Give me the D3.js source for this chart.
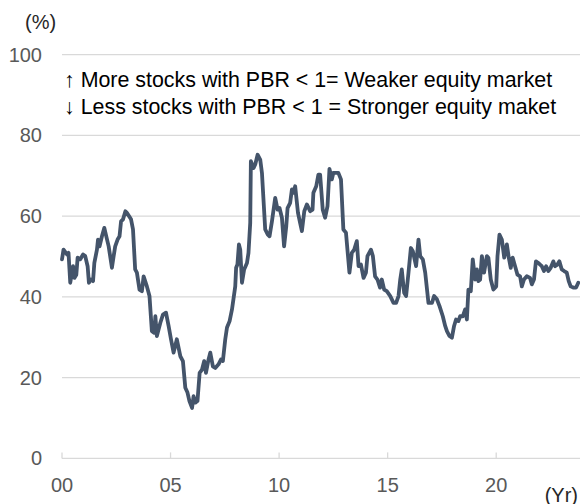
<!DOCTYPE html>
<html>
<head>
<meta charset="utf-8">
<script src="https://cdn.jsdelivr.net/npm/d3@7"></script>
<style>
  body { margin: 0; background: #fff; }
  svg { display: block; font-family: "Liberation Sans", Arial, sans-serif; }
</style>
</head>
<body>
<script>
// years since 2000 (monthly-ish readings)
var years = [0.00,0.07,0.23,0.30,0.38,0.51,0.57,0.66,0.72,0.84,0.97,1.07,1.18,1.24,1.34,1.43,1.49,1.61,1.66,1.73,
  1.84,1.95,2.04,2.15,2.30,2.38,2.45,2.56,2.65,2.72,2.81,2.92,2.99,3.18,3.27,3.37,3.45,3.57,3.68,3.76,
  3.91,4.03,4.14,4.25,4.30,4.37,4.53,4.65,4.79,4.91,5.02,5.14,5.29,5.45,5.57,5.68,5.78,5.87,5.99,6.06,
  6.14,6.24,6.34,6.45,6.55,6.63,6.75,6.83,6.95,7.06,7.21,7.32,7.41,7.52,7.60,7.72,7.83,7.98,8.02,8.08,
  8.15,8.21,8.29,8.39,8.52,8.59,8.67,8.70,8.82,8.90,9.01,9.13,9.21,9.36,9.48,9.56,9.67,9.82,9.93,10.02,
  10.13,10.23,10.33,10.39,10.51,10.59,10.66,10.74,10.87,10.97,11.05,11.16,11.28,11.43,11.54,11.58,11.71,11.81,11.89,12.01,
  12.12,12.23,12.32,12.43,12.50,12.73,12.85,12.96,13.08,13.24,13.35,13.46,13.58,13.66,13.77,13.89,14.00,14.07,14.23,14.32,
  14.42,14.53,14.65,14.73,14.84,14.96,15.12,15.27,15.39,15.50,15.58,15.65,15.76,15.85,15.96,16.07,16.16,16.31,16.42,16.50,
  16.62,16.73,16.88,17.04,17.14,17.27,17.39,17.54,17.65,17.73,17.85,17.96,18.06,18.15,18.26,18.34,18.46,18.57,18.65,18.72,
  18.83,18.92,19.03,19.11,19.18,19.26,19.34,19.44,19.57,19.64,19.75,19.87,20.00,20.06,20.15,20.26,20.37,20.49,20.58,20.67,
  20.76,20.87,20.98,21.10,21.18,21.28,21.41,21.56,21.64,21.74,21.83,21.94,22.02,22.10,22.20,22.30,22.40,22.51,22.63,22.71,
  22.82,22.91,23.02,23.13,23.25,23.34,23.43,23.55,23.68,23.78];

// share of stocks with PBR < 1 (%)
var shares = [49.3,51.7,50.5,50.9,43.5,47.6,44.7,45.5,49.7,49.3,50.5,50.1,47.6,43.5,44.3,43.9,48.4,51.7,54.2,52.5,
  55.0,57.1,55.0,52.5,47.2,50.1,52.5,54.2,55.0,58.7,59.2,61.2,60.8,59.2,56.7,46.8,46.0,41.8,41.4,45.1,
  42.6,40.2,31.5,31.1,35.2,30.3,33.6,35.6,36.1,32.8,29.5,26.2,29.5,25.3,24.1,17.5,16.3,14.2,12.5,15.4,
  13.8,14.2,21.2,22.0,24.1,21.2,24.5,26.2,22.8,22.4,23.3,24.5,24.1,29.5,32.4,34.0,36.9,42.6,47.2,48.0,
  53.0,51.7,43.5,46.8,48.4,50.9,58.3,73.6,71.9,72.8,75.2,74.0,70.7,56.7,55.4,55.0,58.7,64.5,61.6,62.0,
  59.6,52.5,57.5,62.0,63.3,66.6,65.8,67.4,60.8,58.3,56.3,61.2,62.9,61.2,61.6,65.8,67.4,70.3,70.3,61.6,
  59.6,62.5,71.7,69.1,70.7,70.7,69.1,56.7,55.9,46.0,50.9,51.7,53.8,47.6,48.0,44.7,46.0,50.1,51.7,50.1,
  45.1,44.3,42.3,44.3,41.8,41.4,40.2,38.5,38.5,40.2,44.3,46.8,41.0,40.2,46.0,52.1,51.3,47.6,54.2,50.1,
  49.3,46.0,38.5,38.5,40.2,39.4,37.7,35.2,32.8,31.5,30.3,29.9,32.8,34.4,34.0,35.2,35.2,36.9,34.4,41.8,
  41.4,49.3,44.3,46.8,43.9,44.3,50.1,46.0,50.1,49.7,44.3,41.8,42.6,50.1,55.4,54.2,49.7,53.0,49.7,47.2,
  49.7,47.6,45.5,45.1,42.6,44.3,45.1,44.7,43.1,44.3,48.8,48.4,48.0,47.6,46.4,47.6,46.4,47.2,48.8,47.6,
  48.0,48.8,46.8,46.4,46.0,43.9,42.6,42.3,42.3,43.5];

var yTicks = [0, 20, 40, 60, 80, 100];
var xTicks = [0, 5, 10, 15, 20];
var xTickLabels = ["00", "05", "10", "15", "20"];
var notes = ["\u2191 More stocks with PBR < 1= Weaker equity market",
             "\u2193 Less stocks with PBR < 1 = Stronger equity maket"];

var W = 580, H = 504;
var plotLeft = 62, plotRight = 580, plotTop = 54.6, plotBottom = 458.4;

var svg = d3.select("body").append("svg")
    .attr("width", W)
    .attr("height", H);

var x = d3.scaleLinear().domain([0, 23.86]).range([plotLeft, plotRight]);
var y = d3.scaleLinear().domain([0, 100]).range([plotBottom, plotTop]);

// gridlines (0 is the axis line)
svg.append("g").selectAll("line")
    .data(yTicks)
    .enter().append("line")
    .attr("x1", plotLeft)
    .attr("x2", plotRight)
    .attr("y1", function(d){ return y(d); })
    .attr("y2", function(d){ return y(d); })
    .attr("stroke", "#d9d9d9")
    .attr("stroke-width", 1.3);

// x tick marks pointing up
svg.append("g").selectAll("line")
    .data(xTicks)
    .enter().append("line")
    .attr("x1", function(d){ return x(d); })
    .attr("x2", function(d){ return x(d); })
    .attr("y1", plotBottom)
    .attr("y2", plotBottom - 6)
    .attr("stroke", "#d9d9d9")
    .attr("stroke-width", 1.3);

svg.append("g").selectAll("text")
    .data(yTicks)
    .enter().append("text")
    .attr("x", 42)
    .attr("y", function(d){ return y(d) + 7; })
    .attr("text-anchor", "end")
    .attr("fill", "#595959")
    .style("font-size", "20px")
    .text(function(d){ return d; });

svg.append("g").selectAll("text")
    .data(xTicks)
    .enter().append("text")
    .attr("x", function(d){ return x(d); })
    .attr("y", 491.5)
    .attr("text-anchor", "middle")
    .attr("fill", "#595959")
    .style("font-size", "20px")
    .text(function(d, i){ return xTickLabels[i]; });

svg.append("text")
    .attr("x", 25)
    .attr("y", 29)
    .attr("fill", "#262626")
    .style("font-size", "20px")
    .text("(%)");

svg.append("text")
    .attr("x", 578)
    .attr("y", 502)
    .attr("text-anchor", "end")
    .attr("fill", "#262626")
    .style("font-size", "20px")
    .text("(Yr)");

svg.append("g").selectAll("text")
    .data(notes)
    .enter().append("text")
    .attr("x", 64)
    .attr("y", function(d, i){ return 87 + i * 27; })
    .attr("fill", "#000")
    .style("font-size", "21.4px")
    .text(function(d){ return d; });

var line = d3.line()
    .x(function(d, i){ return x(years[i]); })
    .y(function(d){ return y(d); });

svg.append("path")
    .datum(shares)
    .attr("d", line)
    .attr("fill", "none")
    .attr("stroke", "#44546a")
    .attr("stroke-width", 3.8)
    .attr("stroke-linejoin", "round")
    .attr("stroke-linecap", "round");
</script>
</body>
</html>
